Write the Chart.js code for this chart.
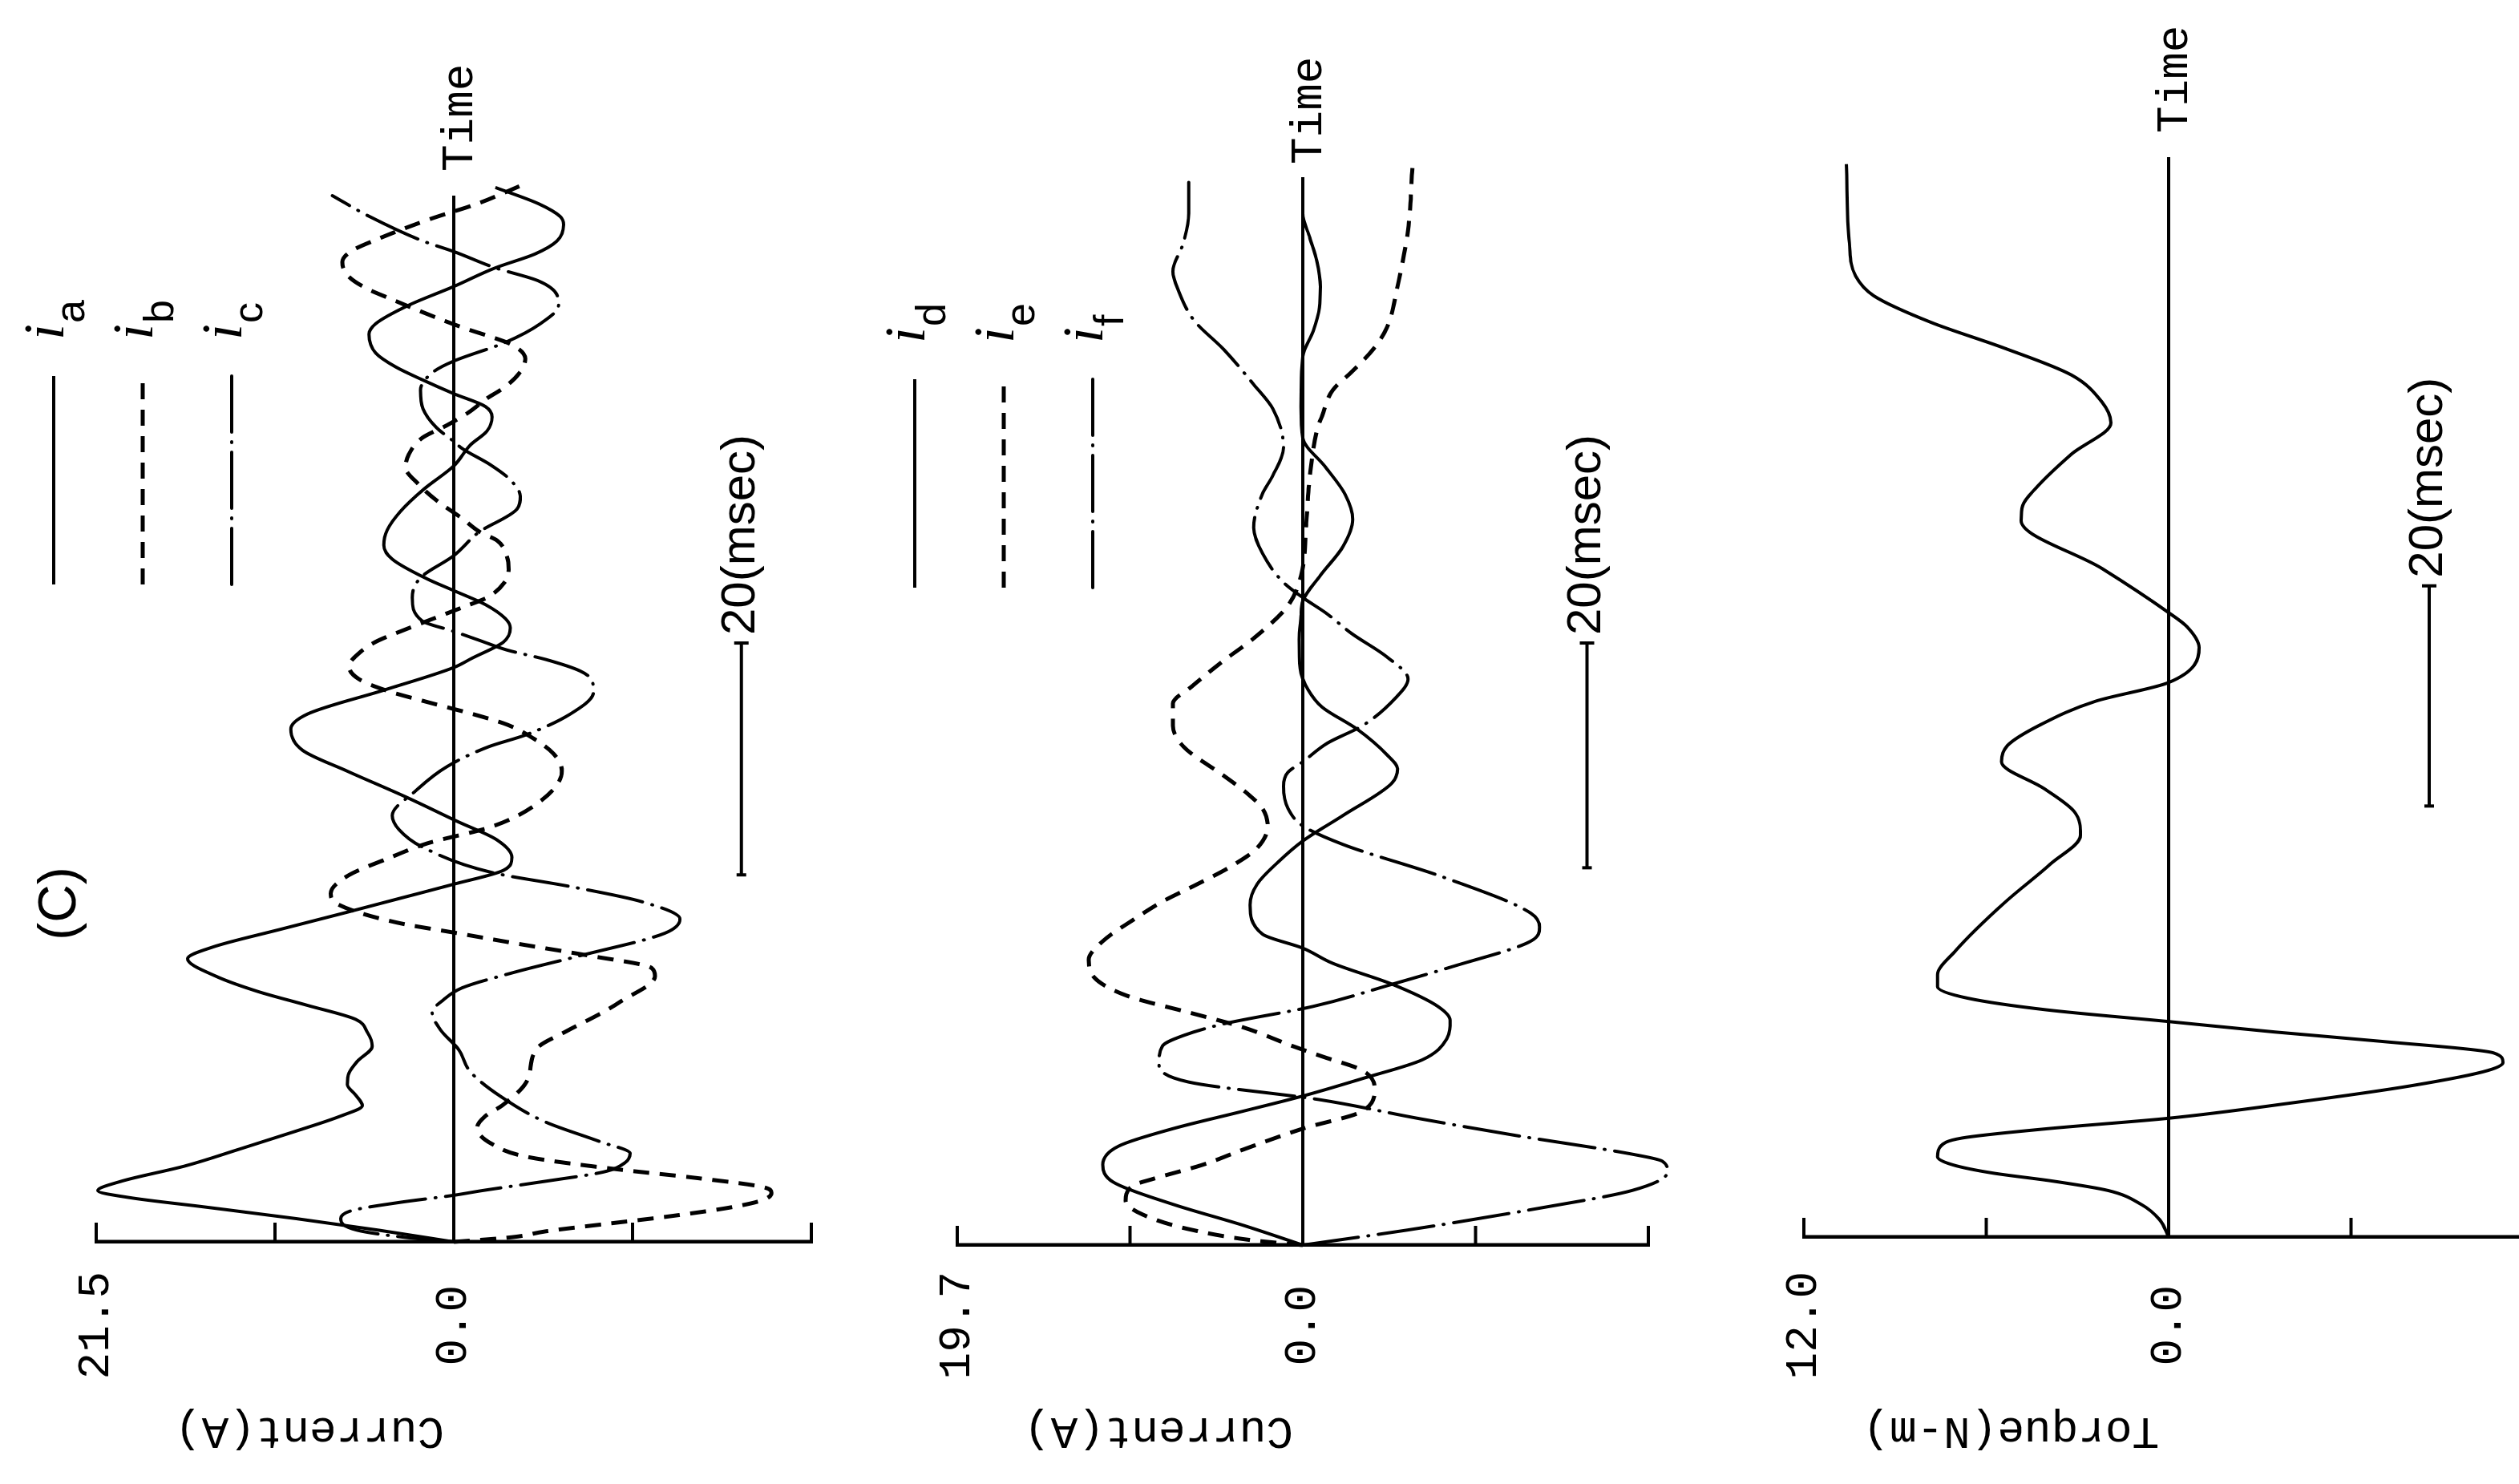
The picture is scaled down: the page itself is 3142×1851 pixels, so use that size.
<!DOCTYPE html>
<html lang="en">
<head>
<meta charset="UTF-8">
<title>Starting transient (C): currents and torque</title>
<script src="https://cdn.jsdelivr.net/npm/chart.js"></script>
<style>
    html, body { margin: 0; padding: 0; overflow: hidden; background: #fff; }
    body { width: 3142px; height: 1851px; position: relative; }
    /* the figure is laid out upright, then turned a quarter turn like the scan */
    #sheet {
        position: absolute; left: 0; top: 0;
        width: 1851px; height: 3142px;
        transform-origin: 0 0;
        transform: translate(0, 1851px) rotate(-90deg);
    }
    #sheet canvas { position: absolute; left: 0; }
</style>
</head>
<body>
<div id="sheet">
    <canvas id="phaseABC" width="1851" height="1100" style="top:0"></canvas>
    <canvas id="phaseDEF" width="1851" height="1050" style="top:1100px"></canvas>
    <canvas id="torque" width="1851" height="1090" style="top:2150px"></canvas>
</div>

<script>
// [time (msec), value]
const ia = [[0,0],[1,4.5],[2,9.5],[3,15],[3.8,19.5],[4.4,21.4],[5.2,20],[6.5,16.2],[8,12.8],[9.5,9.5],[10.8,6.8],[11.7,5.5],[12.6,5.9],[13.5,6.4],[14.5,6.3],[15.5,5.8],[16.8,4.9],[18,5.2],[19.1,5.9],[20.3,8.8],[21.5,11.8],[22.8,14.3],[24.3,16],[25.3,14.5],[26.8,10.5],[28.3,6.4],[29.5,3.2],[30.7,0],[31.9,-3],[33,-3.5],[34.5,-2.6],[36.1,-0.2],[38.2,2.9],[40.4,6.4],[42.2,9.1],[44,9.8],[45.3,8.8],[47.4,4.1],[49.3,0],[50.1,-1.1],[51.5,-3],[52.7,-3.4],[53.5,-3.1],[54.7,-1.9],[55.9,0],[56.9,1.6],[58.6,3.7],[59.8,4.2],[61.1,4],[62.7,3.2],[64.6,1.8],[66.6,0],[68.4,-1],[69.6,-2],[70.8,-2.3],[71.7,-1.9],[72.8,0],[74,1.9],[75.1,3.5],[76.3,4.7],[77.9,5.1],[78.8,4.7],[80.4,2.7],[82,0],[83.6,-2.5],[84.8,-4.9],[85.9,-6.2],[87.3,-6.6],[88,-6.4],[89.1,-5.1],[90.5,-2.5]];
const ib = [[0,0],[0.4,-3.5],[0.9,-5.5],[1.6,-9.5],[2.2,-13],[3,-16.8],[3.6,-18.6],[4.2,-19.1],[4.7,-18.6],[5.5,-14.5],[6.2,-10],[7.3,-4.4],[8.4,-2.3],[9.8,-1.4],[10.8,-1.9],[11.7,-2.9],[13.8,-4.4],[16.6,-5],[18.1,-6.8],[19.5,-8.7],[20.6,-10],[22.8,-12.1],[23.5,-11.9],[24.6,-8],[25.6,-3.8],[26.5,-0.2],[27.4,3.4],[29,7],[29.9,7.4],[31.4,6.4],[33,3.8],[34.2,1.6],[35.6,-2.2],[37.6,-5],[40.4,-6.5],[41.9,-6],[43.2,-4.8],[44.4,-3.2],[45.2,-1.4],[46.3,1.5],[47.3,4],[48.3,5.7],[49.4,6.3],[50.4,5.8],[51.5,4.7],[52.4,3.2],[53.4,1.4],[54.5,-0.6],[55.3,-2],[56.6,-3.05],[57.7,-3.3],[58.8,-3.2],[60.2,-2.6],[60.9,-1.6],[62.1,-0.5],[63.6,1],[65,2.1],[66.5,2.9],[67.6,2.7],[69,1.9],[70.1,0.4],[71.2,-0.9],[72.4,-2],[73.3,-3],[74.5,-3.9],[75.8,-4.3],[77,-3.5],[77.7,-2.2],[78.3,-0.9],[79.3,1],[81,3.9],[81.8,5.2],[82.9,6.35],[84.1,6.7],[85,6.2],[86,4.7],[87.8,1.4],[89.1,-1.4],[90.7,-4.1]];
const ic = [[0,0],[0.4,3],[1,5.8],[2,6.8],[2.7,6.1],[3.4,3.2],[4,0],[4.4,-1.7],[5.2,-5.5],[6,-9],[6.8,-10.3],[7.6,-10.6],[8.6,-8.8],[10.3,-5.5],[12.5,-2.8],[14.6,-1],[16.5,-0.3],[18.2,0.8],[19.7,1.3],[20.8,0.6],[21.8,-0.5],[23.2,-3.8],[24.6,-7.7],[26.5,-12.7],[27.7,-13.6],[29.2,-11.3],[30.5,-7],[31.7,-2.3],[33.9,1.9],[35.4,3.3],[36.6,3.7],[38.7,2.3],[40.8,0.4],[42.5,-2.1],[43.5,-4.3],[45.3,-7],[47.2,-8.4],[48.2,-8.3],[49,-7.6],[50,-5.5],[50.8,-3.2],[51.6,-1.6],[52.4,0],[53.3,1.9],[55.3,2.5],[57,2],[58.9,0],[60.9,-1.5],[62.9,-3.8],[64,-4],[65.4,-3.4],[66.7,-2.2],[68.1,-0.5],[68.7,0],[69.9,1.05],[71.5,1.85],[73.1,2],[74.7,1.2],[75.6,0],[77.2,-3.1],[78.8,-5.2],[80.4,-6.3],[81.3,-6.2],[82.5,-5.06],[83.6,-2.5],[85,0],[85.9,1.85],[88,5.06],[89.8,7.3]];

const id = [[0,0],[1.7,3.4],[3.5,7.4],[5.4,10.8],[6.9,11.4],[8.5,10.5],[10,7.4],[11.5,3.4],[12.8,0],[14.3,-3.4],[15.9,-6.8],[17.7,-8.2],[19.3,-8.4],[20.5,-7.7],[22.4,-5.1],[24.2,-1.7],[25.5,0],[26.7,2.3],[29.2,3],[31,2.6],[32.9,1.4],[34.7,0],[36.9,-2.3],[39.7,-5.1],[40.9,-5.4],[42.1,-4.8],[44.3,-3.1],[46.2,-1.1],[47.7,-0.3],[49.5,0.15],[52,0.2],[54,0.1],[55.3,0],[57.5,-1],[60,-2.3],[62.3,-2.85],[64.5,-2.4],[66.8,-1.3],[69.3,0],[72,0.1],[76.3,0],[78.5,-0.6],[80.5,-0.95],[82.3,-1],[84.5,-0.8],[86.5,-0.4],[88.6,0],[91.7,0]];
const ie = [[0,0],[0.4,2.8],[1.3,6.3],[2.6,9.1],[3.8,10.1],[5.1,9.7],[5.7,8.5],[6.9,5.7],[8.2,3.4],[10,0],[11.5,-3.4],[13.4,-4.1],[15,-3.4],[16.2,-1.1],[17.1,0.6],[18.7,3.4],[19.9,6.3],[21.4,10],[23,11.9],[24.5,12.2],[26.1,11.4],[27.9,9.7],[29.5,8],[31,6],[32.6,4],[34.1,2.6],[36,2],[37.5,2.3],[38.7,3.1],[40.3,4.5],[42.8,6.8],[44.6,7.4],[46.5,7.4],[48,6.3],[50.2,4.5],[52.1,2.8],[54.9,0.85],[57.5,0.1],[62,-0.2],[66,-0.4],[70.2,-0.85],[71.2,-1.1],[73.4,-1.7],[75,-2.8],[76.9,-4],[78.8,-4.8],[82.3,-5.4],[84.5,-5.7],[87.1,-6],[92.5,-6.25]];
const iF = [[0,0],[1.3,-6],[3.2,-13.6],[4.7,-18.8],[6.3,-20.8],[7.2,-20.5],[7.8,-18.8],[9.4,-12.2],[10.9,-6.5],[12.5,-0.9],[14,6.5],[15.6,8.2],[17.1,8],[18,6.8],[19,4.5],[20.5,-0.6],[22.4,-5.1],[23.9,-8.5],[26.1,-13],[27.3,-13.5],[28.5,-13],[31.6,-8],[34.4,-2.3],[36,0],[37.5,0.85],[39.4,1.1],[40.6,0.85],[41.5,0],[43.1,-1.4],[44.6,-3.4],[47,-5.3],[48.6,-6],[50.5,-4.8],[52.5,-2.8],[54.3,-1.3],[55.6,0],[56.9,1.1],[59.4,2.3],[61.6,2.8],[64.5,2.3],[66.1,1.7],[68.5,1.1],[71.8,1.7],[73.9,2.8],[76.9,4.5],[79.4,6.2],[82,7.1],[83.6,7.4],[86.1,6.8],[88.6,6.5],[91.8,6.5]];

const torque = [[0,0],[1.5,0.3],[2.8,0.9],[4,2],[4.8,3.8],[5.5,5.8],[6.2,7.1],[6.9,7.6],[7.8,7.5],[8.5,6.8],[9.3,4],[10.2,0],[11.5,-4],[13,-8],[14.3,-10.5],[15,-11],[15.8,-10.7],[16.8,-7],[17.6,-3.5],[18.5,0],[19.5,4],[20.5,6.6],[21.5,7.6],[22.5,7.6],[24.6,7],[28.7,5.4],[32,3.9],[34.5,2.9],[36.5,3.1],[38.5,4.1],[40.8,5.5],[42.2,5.3],[44,4.2],[46,2.4],[47.6,0],[50.6,-1],[52.4,-0.6],[53.6,0],[57.4,2.2],[61.5,4.85],[62.8,4.8],[64.2,4.4],[67.2,3.2],[69.9,1.9],[71.7,2.2],[74,3.2],[76.3,5.4],[78.5,7.8],[80.8,9.7],[82.5,10.3],[85.3,10.5],[92.1,10.6]];

// value-axis ticks, only the top one and zero carry a label
const ticksABC = [-21.5, -10.75, 0, 10.75, 21.5];
const ticksDEF = [-19.7, -9.85, 0, 9.85, 19.7];
const ticksTorque = [-12, -6, 0, 6, 12];

// 20 msec bar: [from, to] in msec, at this value
const barABC = [31.5, 51.4, -17.3];
const barDEF = [32.4, 51.7, -16.2];
const barTorque = [37.0, 55.9, -8.57];

const INK = '#000';
const lineStyles = {
    solid: { dash: [], width: 4, cap: 'butt' },
    dashed: { dash: [20, 13], width: 5, cap: 'butt' },
    dashDot: { dash: [70, 12, 1, 12], width: 4, cap: 'round' }
};

Chart.defaults.font.family = '"Liberation Mono", monospace';
Chart.defaults.color = INK;

// axis titles, inward tick marks, legend, scale bar and other lettering
const decor = {
    id: 'decor',
    afterDraw(chart, args, o) {
        const { ctx, chartArea: a } = chart;
        const x = chart.scales.x, y = chart.scales.y;
        const y0 = y.getPixelForValue(0);
        ctx.save();
        ctx.strokeStyle = INK;
        ctx.fillStyle = INK;

        ctx.lineWidth = 4;
        y.ticks.forEach(tk => {
            const py = y.getPixelForValue(tk.value);
            ctx.beginPath();
            ctx.moveTo(a.left, py);
            ctx.lineTo(a.left + 24, py);
            ctx.stroke();
        });

        ctx.font = '56px "Liberation Mono"';
        ctx.textBaseline = 'middle';
        ctx.save();
        ctx.translate(67, y0 - 12);
        ctx.rotate(-Math.PI / 2);
        ctx.textAlign = 'left';
        ctx.fillText(o.title, 0, 0);
        ctx.restore();

        ctx.textAlign = 'left';
        ctx.fillText('Time', a.right + o.timeGap, y0 + 8);

        const bx1 = x.getPixelForValue(o.bar[0]);
        const bx2 = x.getPixelForValue(o.bar[1]);
        const by = y.getPixelForValue(o.bar[2]);
        ctx.lineWidth = 4;
        ctx.beginPath();
        ctx.moveTo(bx1, by); ctx.lineTo(bx2, by);
        ctx.moveTo(bx1, by - 6); ctx.lineTo(bx1, by + 6);
        ctx.moveTo(bx2, by - 9); ctx.lineTo(bx2, by + 9);
        ctx.stroke();
        ctx.font = '60px "Liberation Sans"';
        ctx.fillText('20(msec)', bx2 + 10, by);

        (o.legend || []).forEach((item, i) => {
            const ly = a.top - 53 + i * 111;
            const st = lineStyles[item.style];
            ctx.setLineDash(st.dash);
            ctx.lineCap = st.cap;
            ctx.lineWidth = st.width;
            ctx.beginPath();
            ctx.moveTo(a.left + 820, ly);
            ctx.lineTo(a.left + 1080, ly);
            ctx.stroke();
            ctx.setLineDash([]);
            ctx.lineCap = 'butt';
            ctx.textBaseline = 'alphabetic';
            ctx.font = 'italic 72px "Liberation Serif"';
            ctx.fillText('i', a.left + 1125, ly + 12);
            ctx.font = '52px "Liberation Sans"';
            ctx.fillText(item.sub, a.left + 1146, ly + 38);
        });

        if (o.tag) {
            ctx.font = '66px "Liberation Sans"';
            ctx.textAlign = 'center';
            ctx.textBaseline = 'middle';
            ctx.fillText(o.tag, 724, 76);
        }
        ctx.restore();
    }
};

function makePanel(canvasId, series, ticks, geom, extras) {
    const top = ticks[ticks.length - 1];
    return new Chart(document.getElementById(canvasId), {
        type: 'line',
        data: {
            datasets: series.map(s => ({
                data: s.points.map(p => ({ x: p[0], y: p[1] })),
                borderColor: INK,
                borderWidth: lineStyles[s.style].width,
                borderDash: lineStyles[s.style].dash,
                borderCapStyle: lineStyles[s.style].cap,
                pointRadius: 0,
                fill: false,
                clip: false,
                cubicInterpolationMode: 'monotone'
            }))
        },
        options: {
            responsive: false,
            animation: false,
            devicePixelRatio: 1,
            events: [],
            layout: { padding: { left: 0, top: geom.top, right: geom.right, bottom: geom.bottom } },
            scales: {
                x: { type: 'linear', display: false, min: 0, max: geom.tMax },
                y: {
                    min: -top,
                    max: top,
                    afterBuildTicks: s => { s.ticks = ticks.map(v => ({ value: v })); },
                    afterFit: s => { s.width = geom.left; },
                    border: { display: true, color: INK, width: 4.5 },
                    grid: {
                        drawTicks: false,
                        lineWidth: 4,
                        color: c => (c.tick && c.tick.value === 0) ? INK : 'rgba(0,0,0,0)'
                    },
                    ticks: {
                        autoSkip: false,
                        crossAlign: 'center',
                        padding: geom.left - 265,
                        font: { size: 56 },
                        callback: v => v === 0 ? '0.0' : (v === top ? top.toFixed(1) : '')
                    }
                }
            },
            plugins: { legend: { display: false }, tooltip: { enabled: false }, decor: extras }
        },
        plugins: [decor]
    });
}

makePanel('phaseABC',
    [{ points: ia, style: 'solid' }, { points: ib, style: 'dashed' }, { points: ic, style: 'dashDot' }],
    ticksABC,
    { left: 302, top: 120, right: 244, bottom: 88, tMax: 89.8 },
    { title: 'Current(A)', bar: barABC, tag: '(C)', timeGap: 30,
      legend: [{ sub: 'a', style: 'solid' }, { sub: 'b', style: 'dashed' }, { sub: 'c', style: 'dashDot' }] });

makePanel('phaseDEF',
    [{ points: id, style: 'solid' }, { points: ie, style: 'dashed' }, { points: iF, style: 'dashDot' }],
    ticksDEF,
    { left: 298, top: 94, right: 221, bottom: 94, tMax: 91.7 },
    { title: 'Current(A)', bar: barDEF, timeGap: 16,
      legend: [{ sub: 'd', style: 'solid' }, { sub: 'e', style: 'dashed' }, { sub: 'f', style: 'dashDot' }] });

makePanel('torque',
    [{ points: torque, style: 'solid' }],
    ticksTorque,
    { left: 308, top: 100, right: 196, bottom: 80, tMax: 92.7 },
    { title: 'Torque(N-m)', bar: barTorque, timeGap: 30 });
</script>
</body>
</html>
